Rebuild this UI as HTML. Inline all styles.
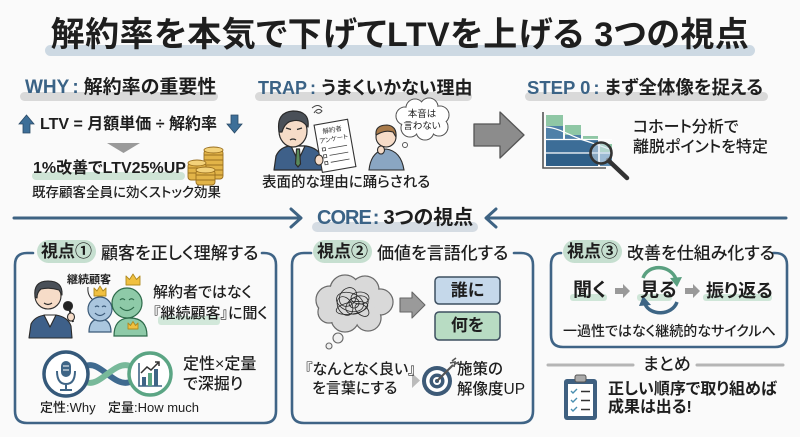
<!DOCTYPE html>
<html><head><meta charset="utf-8">
<style>
*{margin:0;padding:0;box-sizing:border-box}
html,body{width:800px;height:437px;overflow:hidden;background:#fafafa}
body{position:relative;font-family:"Liberation Sans","Noto Sans CJK JP",sans-serif;color:#1e1e1e;font-feature-settings:"palt" 1}
.t{position:absolute;white-space:nowrap}
.b{font-weight:700}
.m{font-weight:500}
.bl{color:#3b6386}
svg{position:absolute;left:0;top:0}
.hd{position:absolute;display:flex;align-items:center;height:23px;top:240px;white-space:nowrap;font-size:17px}
.pill{background:#c6dfd0;border-radius:12px;padding:0 4px;height:23px;line-height:23px;font-weight:700}
</style></head><body>
<svg width="800" height="437" viewBox="0 0 800 437" style="font-family:'Liberation Sans','Noto Sans CJK JP',sans-serif">
<rect x="45" y="45" width="710" height="11" rx="5.5" fill="#cdd9e3"/>
<rect x="20" y="92" width="198" height="9" rx="4.5" fill="#d9d9d9"/>
<rect x="255" y="92" width="217" height="9" rx="4.5" fill="#d9d9d9"/>
<rect x="525" y="92" width="243" height="9" rx="4.5" fill="#d9d9d9"/>

<polygon points="26.5,115 34,124 30,124 30,133 23,133 23,124 19,124" fill="#3d6f98" stroke="#2a4a66" stroke-width="0.8"/>
<polygon points="231,115 238,115 238,124 242,124 234.5,133 227,124 231,124" fill="#3d6f98" stroke="#2a4a66" stroke-width="0.8"/>
<polygon points="107,143 140,143 123.5,153" fill="#9a9a9a"/>
<rect x="32" y="172" width="153" height="8" rx="4" fill="#cfe4d6"/>
<g stroke="#9a7020" stroke-width="0.9">
 <rect x="204" y="150" width="19" height="29" rx="3" fill="#e2b448"/>
 <ellipse cx="213.5" cy="150" rx="9.5" ry="3" fill="#f3d27a"/>
 <path d="M204 155h19M204 160h19M204 165h19M204 170h19M204 175h19" fill="none"/>
 <rect x="188" y="163" width="18" height="17" rx="3" fill="#e2b448"/>
 <ellipse cx="197" cy="163" rx="9" ry="3" fill="#f3d27a"/>
 <path d="M188 168h18M188 173h18" fill="none"/>
 <rect x="196" y="170" width="19" height="15" rx="3" fill="#e2b448"/>
 <ellipse cx="205.5" cy="170" rx="9.5" ry="3" fill="#f3d27a"/>
 <path d="M196 175h19M196 180h19" fill="none"/>
</g>

<g stroke="#2b2b2b" stroke-width="1.2" stroke-linejoin="round">
 <path d="M274 170 L276 156 Q280 147 290 146 L306 146 Q318 148 322 157 L324 170 Z" fill="#3e6089"/>
 <path d="M291 146 L298 161 L305 146 Z" fill="#fff"/>
 <path d="M296.5 149 L299.5 149 L300.5 164 L298 167 L295.5 164 Z" fill="#5a8a5a"/>
 <ellipse cx="293" cy="131" rx="14" ry="16" fill="#f6dcc8"/>
 <path d="M279 132 Q276 112 293 111 Q310 111 308 127 L305 124 Q300 119 292 121 Q285 122 282 132 Z" fill="#4a5058"/>
 <path d="M286 128 l5 1.5 M297 129.5 l5 -1.5 M290 140 q3 -2 6 0" fill="none"/>
</g>
<path d="M314 113 q4 -6 8 -2 q-3 4 -6 1 M312 108 q6 -5 10 0" fill="none" stroke="#444" stroke-width="1"/>
<g transform="rotate(-10 334 146)">
 <rect x="318" y="122" width="34" height="48" fill="#fff" stroke="#333" stroke-width="1.1"/>
 <text x="335" y="132" font-size="6.5" text-anchor="middle" fill="#333">解約者</text>
 <text x="335" y="141" font-size="6.5" text-anchor="middle" fill="#333">アンケート</text>
 <g fill="none" stroke="#444" stroke-width="0.8">
  <rect x="322" y="146" width="3" height="3"/><path d="M328 147.5h19"/>
  <rect x="322" y="153" width="3" height="3"/><path d="M328 154.5h19"/>
  <rect x="322" y="160" width="3" height="3"/><path d="M328 161.5h19"/>
 </g>
</g>
<ellipse cx="319" cy="160" rx="4" ry="5" fill="#f6dcc8" stroke="#2b2b2b" stroke-width="1"/>
<g stroke="#2b2b2b" stroke-width="1.1">
 <path d="M369 170 Q371 151 386 149 Q401 151 404 170 Z" fill="#8aa6c2"/>
 <circle cx="386" cy="137" r="10" fill="#f6dcc8"/>
 <path d="M376 135 Q375 125 387 125 Q397 126 396 137 L393 132 Q386 130 380 133 Z" fill="#a87a4a"/>
 <ellipse cx="381" cy="150" rx="3.5" ry="4" fill="#f6dcc8"/>
</g>
<g stroke="#555" stroke-width="1.1" fill="#fff">
 <circle cx="405" cy="116" r="9"/><circle cx="415" cy="108" r="9"/><circle cx="429" cy="107" r="9"/><circle cx="440" cy="115" r="9"/><circle cx="439" cy="127" r="9"/><circle cx="425" cy="131" r="9"/><circle cx="410" cy="128" r="9"/>
</g>
<g fill="#fff">
 <circle cx="405" cy="116" r="8.4"/><circle cx="415" cy="108" r="8.4"/><circle cx="429" cy="107" r="8.4"/><circle cx="440" cy="115" r="8.4"/><circle cx="439" cy="127" r="8.4"/><circle cx="425" cy="131" r="8.4"/><circle cx="410" cy="128" r="8.4"/><circle cx="422" cy="119" r="13"/>
</g>
<circle cx="405" cy="145" r="2.5" fill="#fff" stroke="#555"/>
<text x="422" y="117" font-size="9.5" text-anchor="middle" fill="#222">本音は</text>
<text x="422" y="129" font-size="9.5" text-anchor="middle" fill="#222">言わない</text>

<polygon points="474,124 500,124 500,112 524,135 500,158 500,146 474,146" fill="#8c8c8c" stroke="#555" stroke-width="1.3" stroke-linejoin="round"/>

<g>
 <rect x="546" y="115" width="17" height="11" fill="#8fc7a5"/>
 <rect x="546" y="126" width="17" height="40" fill="#4f80a8"/>
 <rect x="565" y="125" width="16" height="10" fill="#8fc7a5"/>
 <rect x="565" y="135" width="16" height="31" fill="#4f80a8"/>
 <rect x="583" y="136" width="15" height="8" fill="#8fc7a5"/>
 <rect x="583" y="144" width="15" height="22" fill="#4f80a8"/>
 <rect x="600" y="144" width="12" height="8" fill="#8fc7a5"/>
 <rect x="600" y="152" width="12" height="14" fill="#5f8fb5"/>
 <rect x="546" y="140" width="52" height="13" fill="#3c6d97"/>
 <rect x="546" y="153" width="52" height="13" fill="#2f5f88"/>
 <path d="M546 139.5 H612 M546 153 H612" stroke="#fff" stroke-width="1.3"/>
 <path d="M546 127 C560 128 570 136 583 140 S600 146 612 150" stroke="#fff" stroke-width="1.2" fill="none"/>
 <polyline points="543,112 543,168 606,168" fill="none" stroke="#555" stroke-width="1.6"/>
 <line x1="608" y1="160" x2="627" y2="178" stroke="#333" stroke-width="4.5" stroke-linecap="round"/>
 <circle cx="601" cy="153" r="10.5" fill="rgba(205,222,236,0.55)" stroke="#333" stroke-width="2.6"/>
</g>

<g stroke="#3e6383" stroke-width="3" fill="none" stroke-linecap="round" stroke-linejoin="round">
 <path d="M14 218 L300 218 M291 209 L301 218 L291 227"/>
 <path d="M496 209 L486 218 L496 227 M487 218 L786 218"/>
</g>
<rect x="312" y="222" width="166" height="10" rx="5" fill="#d5dce3"/>

<g stroke="#3f6486" stroke-width="2.6" fill="none" stroke-linecap="round">
 <path d="M33 253 L27 253 Q15 253 15 265 L15 411 Q15 423 27 423 L264 423 Q276 423 276 411 L276 265 Q276 253 264 253 L262 253"/>
 <path d="M311 253 L304 253 Q292 253 292 265 L292 411 Q292 423 304 423 L521 423 Q533 423 533 411 L533 265 Q533 253 521 253 L514 253"/>
 <path d="M561 253 Q551 253 551 265 L551 335 Q551 347 563 347 L775 347 Q787 347 787 335 L787 265 Q787 253 775 253 L773 253"/>
</g>

<g stroke="#2b2b2b" stroke-width="1.1" stroke-linejoin="round">
 <path d="M29 338 L31 324 Q35 316 46 315 L56 315 Q68 317 71 326 L72 338 Z" fill="#3e6089"/>
 <path d="M44 315 L50 327 L56 315 Z" fill="#fff"/>
 <circle cx="48" cy="296" r="13" fill="#f6dcc8"/>
 <path d="M35 297 Q33 281 48 281 Q63 281 62 295 L59 290 Q50 287 41 289 Q37 292 37 298 Z" fill="#4a5058"/>
 <path d="M44 303 q4 3 8 0" fill="none"/>
 <line x1="69" y1="308" x2="73" y2="322" stroke="#222" stroke-width="2"/>
 <circle cx="68" cy="306" r="4.5" fill="#222"/>
 <ellipse cx="71" cy="317" rx="3.5" ry="4" fill="#f6dcc8"/>
</g>
<path d="M88 287 Q87 295 93 300" fill="none" stroke="#333" stroke-width="1"/>
<g stroke="#3b5a78" stroke-width="1.2">
 <path d="M89 332 Q89 319 100 319 Q111 319 111 332 Z" fill="#aac6de"/>
 <circle cx="100" cy="309" r="12" fill="#aac6de"/>
 <path d="M95 307 q2 -2 4 0 M102 307 q2 -2 4 0 M95 313 q5 5 10 0" fill="none"/>
</g>
<g stroke="#2d6a4a" stroke-width="1.2">
 <path d="M114 336 Q114 318 130 318 Q147 318 147 336 Z" fill="#8ecaa8"/>
 <circle cx="127" cy="303" r="15" fill="#8ecaa8"/>
 <path d="M120 300 q2.5 -2.5 5 0 M129 300 q2.5 -2.5 5 0 M120 307 q7 7 14 0" fill="none"/>
</g>
<g fill="#f0c040" stroke="#b08a20" stroke-width="0.9" stroke-linejoin="round">
 <path d="M94 296 L94 288 L97 291 L100 286 L103 291 L106 288 L106 296 Z"/>
 <path d="M126 285 L126 276 L129.5 279.5 L133 274 L136.5 279.5 L140 276 L140 285 Z"/>
 <path d="M128 329 L128 323 L130.5 325.5 L133 321.5 L135.5 325.5 L138 323 L138 329 Z"/>
</g>
<text x="67" y="283" font-size="11" font-weight="700" fill="#222">継続顧客</text>
<rect x="158" y="316" width="62" height="9" rx="3" fill="#d2e8da"/>
<path d="M86 366 C100 360 114 388 130 382" fill="none" stroke="#3f6a8f" stroke-width="6"/>
<path d="M86 382 C100 388 114 360 130 366" fill="none" stroke="#78b99a" stroke-width="6"/>
<circle cx="66" cy="374" r="22" fill="#fff" stroke="#35597a" stroke-width="3.5"/>
<circle cx="150" cy="374" r="21" fill="#fff" stroke="#5ba584" stroke-width="3.5"/>
<rect x="61" y="361" width="10" height="16" rx="5" fill="#3f6586"/>
<path d="M63 366h6M63 370h6" stroke="#fff" stroke-width="1"/>
<path d="M57 371 Q57 384 66 384 Q75 384 75 371 M66 384 L66 390 M60 390 L72 390" fill="none" stroke="#3f6586" stroke-width="2"/>
<path d="M139 363 L139 386 L162 386" fill="none" stroke="#3f6586" stroke-width="1.6"/>
<rect x="142" y="377" width="4" height="9" fill="#3f6586"/>
<rect x="148" y="373" width="4" height="13" fill="#5ba584"/>
<rect x="154" y="369" width="4" height="17" fill="#3f6586"/>
<path d="M141 373 L147 367 L151 370 L159 362 M155 362 L159 362 L159 366" fill="none" stroke="#333" stroke-width="1.5"/>

<g stroke="#6a6a6a" stroke-width="1.3" fill="#d9d9d9">
 <circle cx="330" cy="300" r="14"/><circle cx="345" cy="290" r="15"/><circle cx="365" cy="290" r="14"/><circle cx="380" cy="302" r="13"/><circle cx="368" cy="318" r="13"/><circle cx="345" cy="318" r="14"/><circle cx="329" cy="312" r="11"/>
</g>
<g fill="#d9d9d9">
 <circle cx="330" cy="300" r="13.3"/><circle cx="345" cy="290" r="14.3"/><circle cx="365" cy="290" r="13.3"/><circle cx="380" cy="302" r="12.3"/><circle cx="368" cy="318" r="12.3"/><circle cx="345" cy="318" r="13.3"/><circle cx="329" cy="312" r="10.3"/><circle cx="354" cy="304" r="20"/>
</g>
<g fill="none" stroke="#2a2a2a" stroke-width="0.8">
 <ellipse cx="350" cy="302" rx="14" ry="9" transform="rotate(20 350 302)"/>
 <ellipse cx="357" cy="305" rx="12" ry="8" transform="rotate(-30 357 305)"/>
 <ellipse cx="345" cy="306" rx="10" ry="7" transform="rotate(60 345 306)"/>
 <ellipse cx="360" cy="298" rx="9" ry="6"/>
 <ellipse cx="352" cy="308" rx="16" ry="6" transform="rotate(-10 352 308)"/>
 <ellipse cx="348" cy="297" rx="8" ry="10" transform="rotate(35 348 297)"/>
 <ellipse cx="362" cy="310" rx="8" ry="5" transform="rotate(40 362 310)"/>
 <circle cx="354" cy="303" r="5"/>
</g>
<circle cx="338" cy="338" r="5" fill="#f0f0f0" stroke="#666" stroke-width="1.1"/>
<circle cx="329" cy="346" r="3" fill="#f0f0f0" stroke="#666" stroke-width="1.1"/>
<polygon points="400,298 412,298 412,292 425,305 412,318 412,312 400,312" fill="#9a9a9a" stroke="#666" stroke-width="1.1" stroke-linejoin="round"/>
<rect x="435" y="277" width="65" height="27" rx="4" fill="#c5d8ea" stroke="#3d4f60" stroke-width="1.5"/>
<rect x="435" y="312" width="65" height="28" rx="4" fill="#b8dcc3" stroke="#3d4f60" stroke-width="1.5"/>
<polygon points="412,373 420,380.5 412,388" fill="#bbbbbb"/>
<circle cx="437" cy="381" r="15" fill="#3d5a77"/>
<circle cx="437" cy="381" r="11" fill="#fff"/>
<circle cx="437" cy="381" r="7.5" fill="#3d5a77"/>
<circle cx="437" cy="381" r="4" fill="#fff"/>
<circle cx="437" cy="381" r="2" fill="#3d5a77"/>
<path d="M437 381 L453 365" stroke="#555" stroke-width="2"/>
<path d="M450 363 L455 362 L454 367 M452 361 L456 358 M455 364 L459 362" stroke="#555" stroke-width="1.6" fill="none"/>

<rect x="570" y="294" width="37" height="7" rx="3" fill="#cfe6d8"/>
<rect x="637" y="294" width="35" height="7" rx="3" fill="#cfe6d8"/>
<rect x="703" y="294" width="69" height="7" rx="3" fill="#cfe6d8"/>
<polygon points="615,288 623,288 623,284 630,291 623,298 623,294 615,294" fill="#999"/>
<polygon points="685,288 693,288 693,284 700,291 693,298 693,294 685,294" fill="#999"/>
<path d="M643 278 C648 264 670 264 676 279" fill="none" stroke="#5aa080" stroke-width="3.5"/>
<polygon points="670,278 682,277 677,287" fill="#5aa080"/>
<path d="M677 302 C672 316 650 316 645 304" fill="none" stroke="#3d6585" stroke-width="3.5"/>
<polygon points="651,305 639,306 643,296" fill="#3d6585"/>

<path d="M548 365 L633 365 M697 365 L783 365" stroke="#b5b5b5" stroke-width="3" stroke-linecap="round"/>
<rect x="564" y="379" width="33" height="41" rx="3" fill="#3f6080"/>
<rect x="568" y="384" width="25" height="32" fill="#fff"/>
<rect x="575" y="375" width="11" height="7" rx="2" fill="#aaa" stroke="#555" stroke-width="1"/>
<path d="M571 391 l2 2 l4 -4 M571 400 l2 2 l4 -4 M571 409 l2 2 l4 -4" fill="none" stroke="#4a8fb0" stroke-width="1.4"/>
<path d="M581 391.5 h9 M581 400.5 h9 M581 409.5 h9" stroke="#333" stroke-width="1.4"/>
</svg>

<div class="t b" style="left:0;width:800px;text-align:center;top:15px;font-size:34px;line-height:40px;letter-spacing:0.5px">解約率を本気で下げてLTVを上げる 3つの視点</div>

<div class="t b" style="left:25px;top:76px;font-size:19px;line-height:24px"><span class="bl">WHY</span><span class="bl" style="margin:0 5px 0 3px">:</span>解約率の重要性</div>
<div class="t b" style="left:258px;top:76px;font-size:18px;line-height:24px"><span class="bl">TRAP</span><span class="bl" style="margin:0 5px 0 3px">:</span>うまくいかない理由</div>
<div class="t b" style="left:527px;top:76px;font-size:18.5px;line-height:24px"><span class="bl">STEP 0</span><span class="bl" style="margin:0 5px 0 3px">:</span>まず全体像を捉える</div>

<div class="t b" style="left:40px;top:115px;font-size:16px;line-height:20px">LTV = 月額単価 ÷ 解約率</div>
<div class="t b" style="left:33px;top:159px;font-size:16px;line-height:20px">1%改善でLTV25%UP</div>
<div class="t m" style="left:32px;top:184px;font-size:13.5px;line-height:18px">既存顧客全員に効くストック効果</div>
<div class="t m" style="left:262px;top:173px;font-size:14.5px;line-height:20px">表面的な理由に踊らされる</div>
<div class="t m" style="left:633px;top:118px;font-size:16px;line-height:20px">コホート分析で<br>離脱ポイントを特定</div>

<div class="t b" style="left:317px;top:205px;font-size:20px;line-height:26px"><span class="bl" style="letter-spacing:-1px">CORE</span><span class="bl" style="margin:0 4px 0 2px">:</span>3つの視点</div>

<div class="hd" style="left:37px"><span class="pill">視点①</span><span class="m" style="margin-left:5px">顧客を正しく理解する</span></div>
<div class="hd" style="left:313px"><span class="pill">視点②</span><span class="m" style="margin-left:5px">価値を言語化する</span></div>
<div class="hd" style="left:563px"><span class="pill">視点③</span><span class="m" style="margin-left:5px">改善を仕組み化する</span></div>

<div class="t m" style="left:153px;top:282px;font-size:15px;line-height:21px">解約者ではなく<br>『継続顧客』に聞く</div>
<div class="t m" style="left:183px;top:355px;font-size:16px;line-height:20px">定性×定量<br>で深掘り</div>
<div class="t m" style="left:40px;top:400px;font-size:13px;line-height:16px">定性:Why</div>
<div class="t m" style="left:108px;top:400px;font-size:13px;line-height:16px">定量:How much</div>

<div class="t b" style="left:435px;width:65px;text-align:center;top:279px;font-size:17px;line-height:23px">誰に</div>
<div class="t b" style="left:435px;width:65px;text-align:center;top:314px;font-size:17px;line-height:23px">何を</div>
<div class="t m" style="left:305px;top:360px;font-size:15px;line-height:19px">『なんとなく良い』</div>
<div class="t m" style="left:312px;top:379px;font-size:15px;line-height:19px">を言葉にする</div>
<div class="t m" style="left:457px;top:360px;font-size:15.5px;line-height:20px">施策の<br>解像度UP</div>

<div class="t b" style="left:573px;top:279px;font-size:19px;line-height:24px">聞く</div>
<div class="t b" style="left:640px;top:279px;font-size:19px;line-height:24px">見る</div>
<div class="t b" style="left:706px;top:279px;font-size:18px;line-height:24px">振り返る</div>
<div class="t m" style="left:563px;top:321px;font-size:14px;line-height:20px">一過性ではなく継続的なサイクルへ</div>

<div class="t m" style="left:643px;top:354px;font-size:17px;line-height:22px">まとめ</div>
<div class="t b" style="left:608px;top:381px;font-size:16px;line-height:18px">正しい順序で取り組めば<br>成果は出る!</div>
</body></html>
